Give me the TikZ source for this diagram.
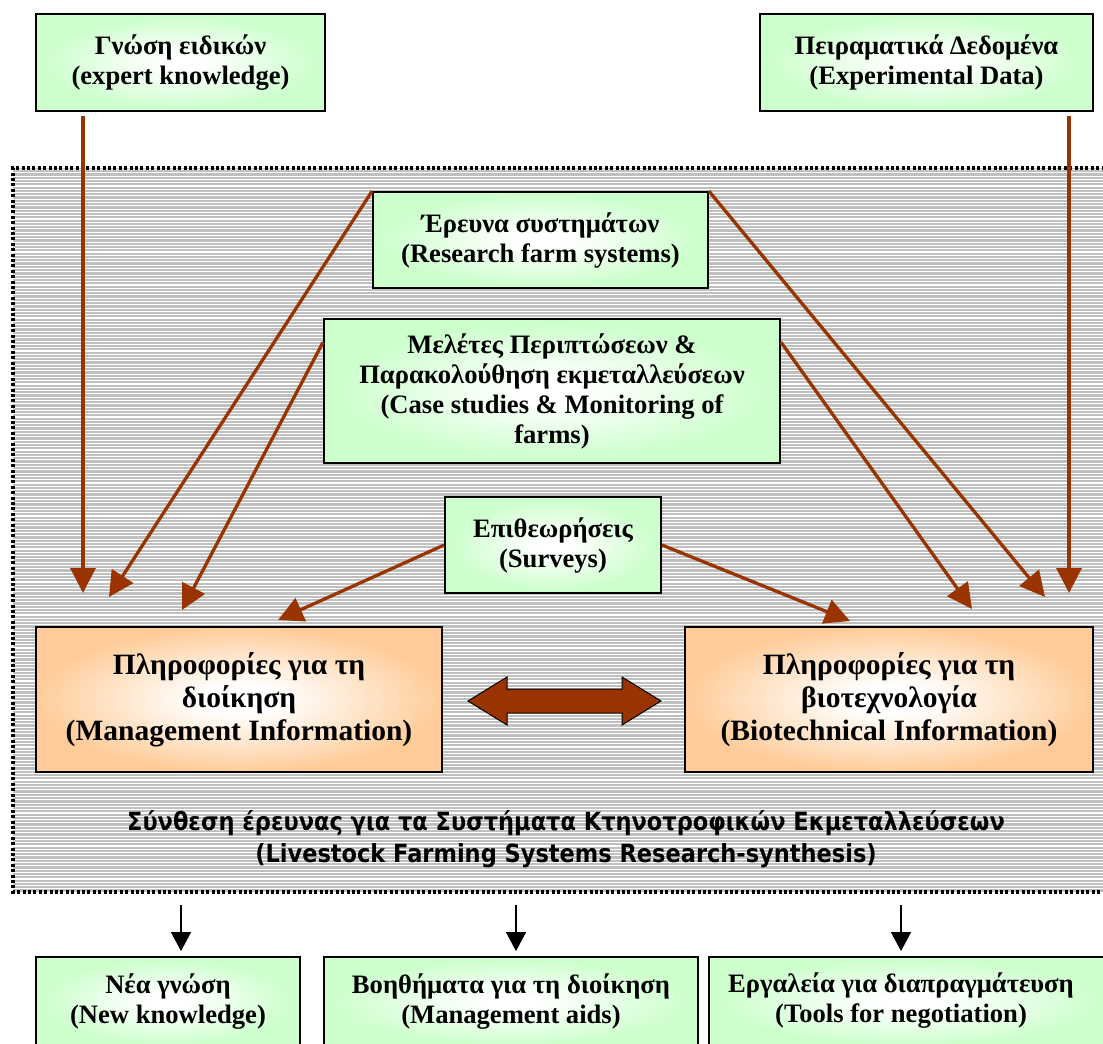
\documentclass[tikz,border=0pt]{standalone}
\usepackage{fontspec}
\setmainfont{Liberation Serif}
\newfontfamily\titlefont[FakeStretch=0.9]{DejaVu Sans}
\usetikzlibrary{arrows.meta}
\definecolor{boxgreen}{HTML}{CCFFCC}
\definecolor{boxorange}{HTML}{FFCC99}
\definecolor{arrowbrown}{HTML}{993300}
\definecolor{stripegray}{HTML}{C0C0C0}
\pgfdeclareradialshading{greenglow}{\pgfpoint{0bp}{0bp}}{color(0bp)=(white); color(4bp)=(white); color(24bp)=(boxgreen); color(50bp)=(boxgreen)}
\pgfdeclareradialshading{orangeglow}{\pgfpoint{0bp}{0bp}}{color(0bp)=(white); color(5bp)=(white); color(25bp)=(boxorange); color(50bp)=(boxorange)}

\begin{document}
\begin{tikzpicture}[x=1pt,y=-1pt,
	boxtext/.style={align=center,inner sep=0pt,font=\fontsize{26.6}{30}\selectfont\bfseries},
	greenbox/.style={boxtext,draw,line width=1.8pt,shading=greenglow},
	orangebox/.style={boxtext,draw,line width=1.8pt,shading=orangeglow,font=\fontsize{29.5}{33}\selectfont\bfseries},
	feedarrow/.style={-{Triangle[length=25pt,width=25pt]},line width=3.3pt,arrowbrown},
	outarrow/.style={-{Triangle[length=19pt,width=20pt]},line width=1.3pt,shorten >=5pt}]
	\useasboundingbox (0,0) rectangle (1103,1044);
	\fill[stripegray] (13,168) rectangle (1110,892);
	\foreach \y in {169.5,172.8,...,891} \draw[white,line width=1.1pt] (13,\y) -- (1110,\y);
	\draw[line width=3.2pt,dash pattern=on 3pt off 2.4pt] (1110,168) -- (13,168) -- (13,892) -- (1110,892);
	\node[greenbox,minimum width=289pt,minimum height=97pt] (expert) at (180.5,62.5) {Γνώση ειδικών\\(expert knowledge)};
	\node[greenbox,minimum width=333pt,minimum height=97pt] (expdata) at (926.5,62.5) {Πειραματικά Δεδομένα\\(Experimental Data)};
	\node[greenbox,minimum width=335pt,minimum height=96pt] (research) at (540.5,240) {Έρευνα συστημάτων\\(Research farm systems)};
	\node[greenbox,minimum width=456pt,minimum height=144pt] (cases) at (552,391) {Μελέτες Περιπτώσεων \&\\Παρακολούθηση εκμεταλλεύσεων\\(Case studies \& Monitoring of\\farms)};
	\node[greenbox,minimum width=216pt,minimum height=96pt] (surveys) at (553,545) {Επιθεωρήσεις\\(Surveys)};
	\node[orangebox,minimum width=406pt,minimum height=145pt] (mgmt) at (239,699.5) {Πληροφορίες για τη\\διοίκηση\\(Management Information)};
	\node[orangebox,minimum width=408pt,minimum height=145pt] (biotech) at (889,699.5) {Πληροφορίες για τη\\βιοτεχνολογία\\(Biotechnical Information)};
	\draw[fill=arrowbrown,line width=1pt] (468,701) -- (507,677) -- (507,689) -- (622,689) -- (622,677) -- (661,701) -- (622,725) -- (622,713) -- (507,713) -- (507,725) -- cycle;
	\node[align=center,font=\titlefont\bfseries\fontsize{25}{32}\selectfont] (synthesis) at (566,839) {Σύνθεση έρευνας για τα Συστήματα Κτηνοτροφικών Εκμεταλλεύσεων\\(Livestock Farming Systems Research-synthesis)};
	\node[greenbox,minimum width=264pt,minimum height=90pt] (newknow) at (168,1002) {Νέα γνώση\\(New knowledge)};
	\node[greenbox,minimum width=374pt,minimum height=90pt] (aids) at (511,1002) {Βοηθήματα για τη διοίκηση\\(Management aids)};
	\node[greenbox,minimum width=401pt,minimum height=90pt] (toolsbox) at (909.5,1002) {};
	\node[boxtext] (tools) at (901,1001) {Εργαλεία για διαπραγμάτευση\\(Tools for negotiation)};
	\coordinate (m1) at (83,593);
	\coordinate (m2) at (109,597);
	\coordinate (m3) at (182,610);
	\coordinate (m4) at (278,620);
	\coordinate (b1) at (850,621);
	\coordinate (b2) at (972,609);
	\coordinate (b3) at (1045,597);
	\coordinate (b4) at (1069,593);
	\draw[feedarrow] ([xshift=-97.5pt,yshift=-4pt]expert.south) -- (m1);
	\draw[feedarrow] (research.north west) -- (m2);
	\draw[feedarrow] ([yshift=-24pt]cases.north west) -- (m3);
	\draw[feedarrow] (surveys.west) -- (m4);
	\draw[feedarrow] (surveys.east) -- (b1);
	\draw[feedarrow] ([yshift=-24pt]cases.north east) -- (b2);
	\draw[feedarrow] (research.north east) -- (b3);
	\draw[feedarrow] ([xshift=142.5pt,yshift=-4pt]expdata.south) -- (b4);
	\foreach \x/\n in {181/newknow,516/aids,901/toolsbox} {
		\coordinate (down\n) at (\x,905);
		\draw[outarrow] (down\n) -- (down\n |- \n.north);
	}
\end{tikzpicture}
\end{document}
